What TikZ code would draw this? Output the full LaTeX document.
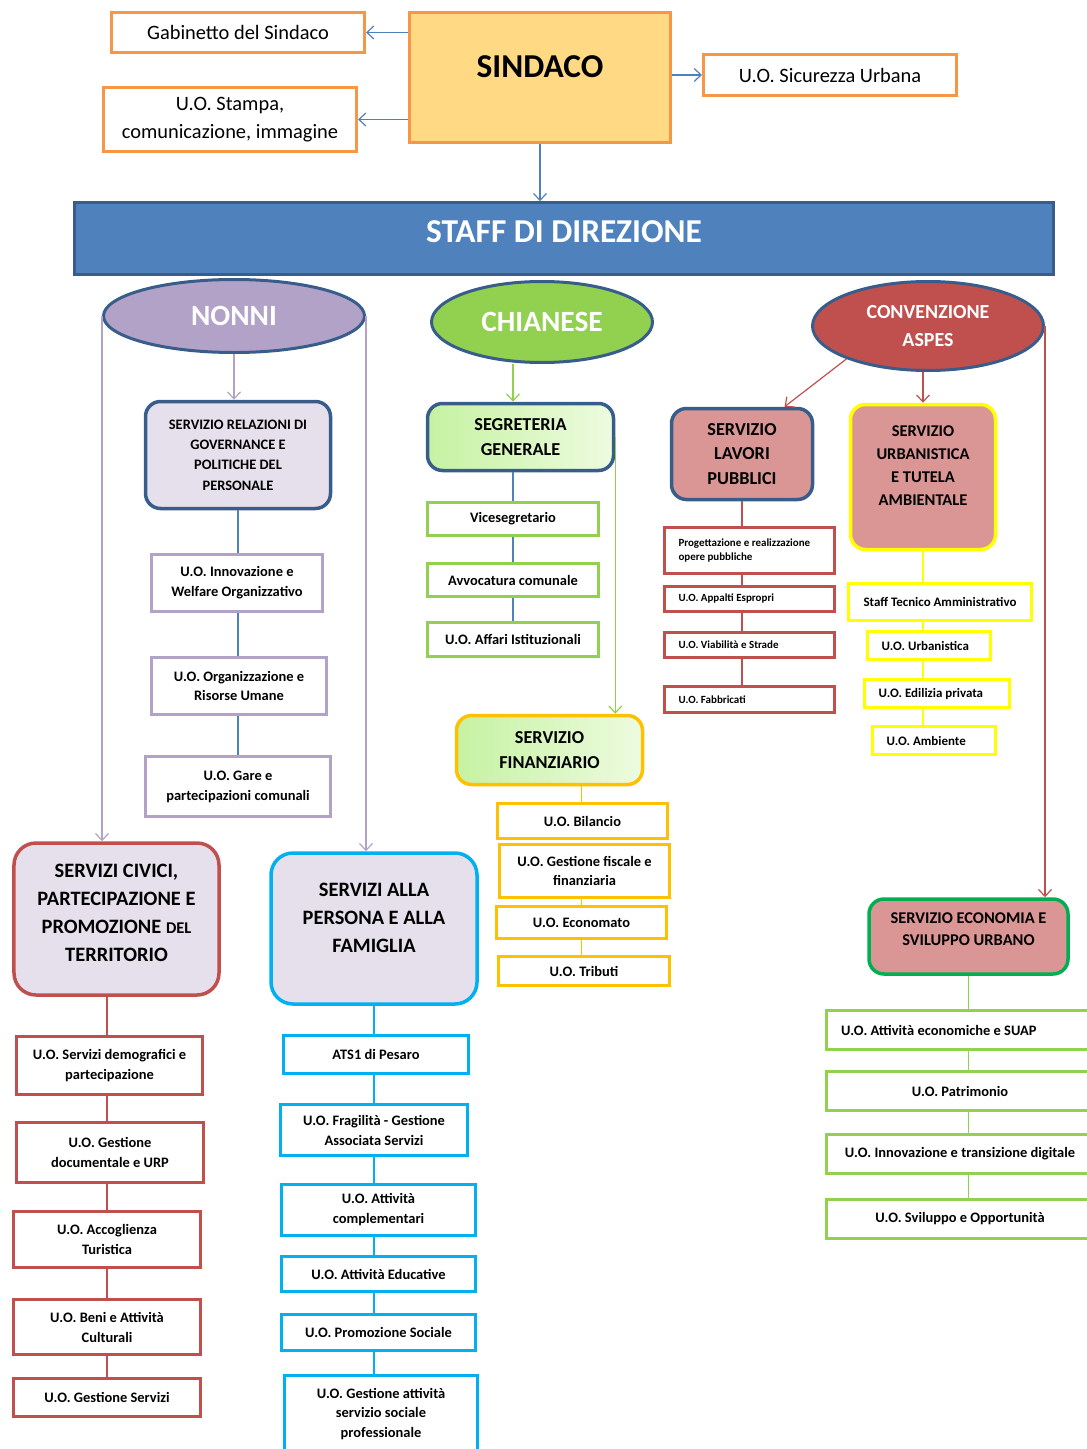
\documentclass[tikz,border=0pt]{standalone}
\usepackage{fontspec}
\setmainfont{Carlito}
\usetikzlibrary{shapes.geometric,arrows.meta}

\definecolor{orln}{HTML}{F79646}
\definecolor{sinbg}{HTML}{FFD983}
\definecolor{bluln}{HTML}{4F81BD}
\definecolor{dkblu}{HTML}{385D8A}
\definecolor{lavln}{HTML}{B3A2C7}
\definecolor{lavbg}{HTML}{E5E0EC}
\definecolor{grnln}{HTML}{92D050}
\definecolor{redln}{HTML}{C0504D}
\definecolor{pinkbg}{HTML}{D99694}
\definecolor{yelln}{HTML}{FFFF00}
\definecolor{ambln}{HTML}{FFC000}
\definecolor{cyanln}{HTML}{00B0F0}
\definecolor{dkgrn}{HTML}{00B050}
\definecolor{lgA}{HTML}{C6F2A2}
\definecolor{lgB}{HTML}{EDFBE0}

\begin{document}
\begin{tikzpicture}[x=1bp, y=-1bp,
    >={Straight Barb[length=7bp,width=13bp]},
    sz/.style 2 args = {minimum width = #1bp, minimum height = #2bp},
    topbox/.style = {draw = orln, line width = 3bp, fill = white, align = center, inner sep = 2bp, font = \fontsize{20.5}{28}\selectfont},
    capo/.style = {shape = ellipse, draw = dkblu, line width = 3bp, inner sep = 0bp, text = white, align = center, font = \bfseries\fontsize{29.5}{34}\selectfont},
    srv/.style = {draw = #1, rounded corners = 15bp, line width = 3.5bp, align = center, inner sep = 3bp, font = \bfseries\fontsize{18.3}{25}\selectfont},
    grad/.style = {left color = lgA, right color = lgB},
    uo/.style = {draw = #1, line width = 3bp, fill = white, align = center, inner sep = 2bp, font = \bfseries\fontsize{14.5}{20}\selectfont},
    uol/.style = {uo = #1, align = flush left, inner xsep = 14bp},
    lnk/.style = {line width = 1.2bp},
    ]
    \useasboundingbox (0,0) rectangle (1086,1449);

    \node[topbox, sz = {253}{40}] (GAB) at (238,32.5) {Gabinetto del Sindaco};
    \node[topbox, sz = {253}{64}] (STA) at (230,119.5) {U.O. Stampa,\\comunicazione, immagine};
    \node[topbox, fill = sinbg, sz = {261}{130}, text depth = 22bp, font = \bfseries\fontsize{33.5}{38}\selectfont] (SIN) at (540,77.5) {SINDACO};
    \node[topbox, sz = {253}{41}] (SIC) at (830,75) {U.O. Sicurezza Urbana};
    \node[draw = dkblu, fill = bluln, line width = 2.5bp, sz = {979}{72}, text = white, text depth = 14bp, font = \bfseries\fontsize{33.5}{38}\selectfont] (STAFF) at (564,238.5) {STAFF DI DIREZIONE};

    \node[capo, fill = lavln, sz = {261}{73}] (NON) at (234,316) {NONNI};
    \node[capo, fill = grnln, sz = {221}{81}] (CHI) at (542,322) {CHIANESE};
    \node[capo, fill = redln, sz = {231}{89}, font = \bfseries\fontsize{20}{28}\selectfont] (ASP) at (928,326) {CONVENZIONE\\ASPES};

    \node[srv = dkblu, fill = lavbg, sz = {185}{107}, font = \bfseries\fontsize{14.5}{20.3}\selectfont] (SR) at (238,455) {SERVIZIO RELAZIONI DI\\GOVERNANCE E\\POLITICHE DEL\\PERSONALE};
    \node[uo = lavln, sz = {171}{57}] (INN) at (237,583) {U.O. Innovazione e\\Welfare Organizzativo};
    \node[uo = lavln, sz = {175}{57}] (ORG) at (239,686) {U.O. Organizzazione e\\Risorse Umane};
    \node[uo = lavln, sz = {185}{60}] (GARE) at (238,786.5) {U.O. Gare e\\partecipazioni comunali};

    \node[srv = dkblu, grad, sz = {186}{67}] (SEG) at (520.5,437) {SEGRETERIA\\GENERALE};
    \node[uo = grnln, sz = {171}{33}] (VICE) at (513,519) {Vicesegretario};
    \node[uo = grnln, sz = {171}{33}] (AVV) at (513,580) {Avvocatura comunale};
    \node[uo = grnln, sz = {171}{34}] (AFF) at (513,639.5) {U.O. Affari Istituzionali};

    \node[srv = ambln, grad, sz = {186}{69}] (FIN) at (549.5,750) {SERVIZIO\\FINANZIARIO};
    \node[uo = ambln, sz = {170}{35}] (BIL) at (582.5,821) {U.O. Bilancio};
    \node[uo = ambln, sz = {170}{53}] (FISC) at (584.5,871) {U.O. Gestione fiscale e\\finanziaria};
    \node[uo = ambln, sz = {170}{32}] (ECO) at (581.5,922.5) {U.O. Economato};
    \node[uo = ambln, sz = {171}{29}] (TRI) at (584,971) {U.O. Tributi};

    \node[srv = dkblu, fill = pinkbg, sz = {141}{91}] (LAV) at (742,454) {SERVIZIO\\LAVORI\\PUBBLICI};
    \node[uol = redln, sz = {170}{46}, font = \bfseries\fontsize{11}{15}\selectfont, text width = 142bp] (PROG) at (749.5,550.5) {Progettazione e realizzazione\\opere pubbliche};
    \node[uol = redln, sz = {170}{25}, font = \bfseries\fontsize{11}{15}\selectfont, text width = 142bp] (APP) at (749.5,599) {U.O. Appalti Espropri};
    \node[uol = redln, sz = {170}{25}, font = \bfseries\fontsize{11}{15}\selectfont, text width = 142bp] (VIA) at (749.5,645) {U.O. Viabilità e Strade};
    \node[uol = redln, sz = {170}{26}, font = \bfseries\fontsize{11}{15}\selectfont, text width = 142bp] (FAB) at (749.5,699.5) {U.O. Fabbricati};

    \node[srv = yelln, fill = pinkbg, sz = {145}{145}, font = \bfseries\fontsize{16.5}{23}\selectfont] (URB) at (923,477) {SERVIZIO\\URBANISTICA\\E TUTELA\\AMBIENTALE\\~};
    \node[uo = yelln, sz = {183}{37}, font = \bfseries\fontsize{13}{18}\selectfont] (STC) at (940,602) {Staff Tecnico Amministrativo};
    \node[uol = yelln, sz = {123}{28}, font = \bfseries\fontsize{13}{18}\selectfont, text width = 95bp] (URBU) at (929,645.5) {U.O. Urbanistica};
    \node[uol = yelln, sz = {145}{28}, font = \bfseries\fontsize{13}{18}\selectfont, text width = 117bp] (EDI) at (937,693.5) {U.O. Edilizia privata};
    \node[uol = yelln, sz = {123}{28}, font = \bfseries\fontsize{13}{18}\selectfont, text width = 95bp] (AMB) at (934,740.5) {U.O. Ambiente};

    \node[srv = redln, fill = lavbg, sz = {205}{152}, rounded corners = 22bp, text depth = 12bp, font = \bfseries\fontsize{20.5}{28}\selectfont] (CIV) at (116.5,919) {SERVIZI CIVICI,\\PARTECIPAZIONE E\\PROMOZIONE {\fontsize{16.5}{28}\selectfont DEL}\\TERRITORIO};
    \node[uo = redln, sz = {186}{58}] (SD) at (109.5,1065.5) {U.O. Servizi demografici e\\partecipazione};
    \node[uo = redln, sz = {187}{60}] (GD) at (110,1152.5) {U.O. Gestione\\documentale e URP};
    \node[uo = redln, sz = {187}{56}] (ACC) at (107,1239.5) {U.O. Accoglienza\\Turistica};
    \node[uo = redln, sz = {187}{55}] (BEN) at (107,1327) {U.O. Beni e Attività\\Culturali};
    \node[uo = redln, sz = {187}{38}] (GS) at (107,1397.5) {U.O. Gestione Servizi};

    \node[srv = cyanln, fill = lavbg, sz = {206}{151}, rounded corners = 22bp, font = \bfseries\fontsize{20.5}{28}\selectfont] (PER) at (374,928.5) {SERVIZI ALLA\\PERSONA E ALLA\\FAMIGLIA\\[-6bp]~};
    \node[uo = cyanln, sz = {185}{38}] (ATS) at (376,1054.5) {ATS1 di Pesaro};
    \node[uo = cyanln, sz = {187}{51}] (FRA) at (374,1130) {U.O. Fragilità - Gestione\\Associata Servizi};
    \node[uo = cyanln, sz = {194}{51}] (COM) at (378.5,1210) {U.O. Attività\\complementari};
    \node[uo = cyanln, sz = {194}{35}] (EDU) at (378.5,1274) {U.O. Attività Educative};
    \node[uo = cyanln, sz = {194}{36}] (PRO) at (378.5,1332.5) {U.O. Promozione Sociale};
    \node[uo = cyanln, sz = {193}{77}] (GSS) at (381,1414) {U.O. Gestione attività\\servizio sociale\\professionale};

    \node[srv = dkgrn, fill = pinkbg, sz = {199}{75}, text depth = 14bp, font = \bfseries\fontsize{16.5}{22}\selectfont] (ECN) at (968.5,936.5) {SERVIZIO ECONOMIA E\\SVILUPPO URBANO};
    \node[uol = grnln, sz = {267}{39}, text width = 238bp] (AE) at (960,1030) {U.O. Attività economiche e SUAP};
    \node[uo = grnln, sz = {267}{39}] (PAT) at (960,1091) {U.O. Patrimonio};
    \node[uo = grnln, sz = {267}{39}] (INND) at (960,1154) {U.O. Innovazione e transizione digitale};
    \node[uo = grnln, sz = {267}{39}] (SVI) at (960,1219) {U.O. Sviluppo e Opportunità};

    \path[->, lnk, bluln] (SIN.west |- GAB.east) edge (GAB.east);
    \path[->, lnk, bluln] (SIN.west |- STA.east) edge (STA.east);
    \path[->, lnk, bluln] (SIN.east |- SIC.west) edge (SIC.west);
    \path[->, lnk, bluln] (SIN.south) edge (SIN.south |- STAFF.north);

    \path[->, lnk, lavln] (NON.south) edge (NON.south |- SR.north);
    \path[->, lnk, lavln] (NON.west) edge (NON.west |- CIV.north);
    \path[->, lnk, lavln] (NON.east) edge (NON.east |- PER.north);
    \path[lnk, bluln] (SR.south) edge (SR.south |- INN.north);
    \path[lnk, bluln] (SR.south |- INN.south) edge (SR.south |- ORG.north);
    \path[lnk, bluln] (SR.south |- ORG.south) edge (SR.south |- GARE.north);

    \path[->, lnk, grnln] (VICE.north |- CHI.south) edge (VICE.north |- SEG.north);
    \path[->, lnk, grnln] (SEG.east) edge (SEG.east |- FIN.north);
    \path[lnk, bluln] (VICE.north |- SEG.south) edge (VICE.north);
    \path[lnk, bluln] (VICE.south) edge (AVV.north);
    \path[lnk, bluln] (AVV.south) edge (AFF.north);

    \path[lnk, ambln] (ECO.north |- FIN.south) edge (ECO.north |- BIL.north);
    \path[lnk, ambln] (ECO.north |- FISC.south) edge (ECO.north);
    \path[lnk, ambln] (ECO.south) edge (ECO.south |- TRI.north);

    \path[->, lnk, redln] (ASP.202) edge (LAV.48);
    \path[->, lnk, redln] (URB.north |- ASP.south) edge (URB.north);
    \path[->, lnk, redln] (ASP.east) edge (ASP.east |- ECN.north);
    \path[lnk, redln] (LAV.south) edge (LAV.south |- PROG.north);
    \path[lnk, redln] (LAV.south |- PROG.south) edge (LAV.south |- APP.north);
    \path[lnk, redln] (LAV.south |- APP.south) edge (LAV.south |- VIA.north);
    \path[lnk, redln] (LAV.south |- VIA.south) edge (LAV.south |- FAB.north);

    \path[lnk, yelln] (URB.south) edge (URB.south |- STC.north);
    \path[lnk, yelln] (URB.south |- STC.south) edge (URB.south |- URBU.north);
    \path[lnk, yelln] (URB.south |- URBU.south) edge (URB.south |- EDI.north);
    \path[lnk, yelln] (URB.south |- EDI.south) edge (URB.south |- AMB.north);

    \path[lnk, redln] (GS.north |- CIV.south) edge (GS.north |- SD.north);
    \path[lnk, redln] (GS.north |- SD.south) edge (GS.north |- GD.north);
    \path[lnk, redln] (GS.north |- GD.south) edge (GS.north |- ACC.north);
    \path[lnk, redln] (GS.north |- ACC.south) edge (GS.north |- BEN.north);
    \path[lnk, redln] (GS.north |- BEN.south) edge (GS.north);

    \path[lnk, cyanln] (PER.south) edge (PER.south |- ATS.north);
    \path[lnk, cyanln] (PER.south |- ATS.south) edge (PER.south |- FRA.north);
    \path[lnk, cyanln] (PER.south |- FRA.south) edge (PER.south |- COM.north);
    \path[lnk, cyanln] (PER.south |- COM.south) edge (PER.south |- EDU.north);
    \path[lnk, cyanln] (PER.south |- EDU.south) edge (PER.south |- PRO.north);
    \path[lnk, cyanln] (PER.south |- PRO.south) edge (PER.south |- GSS.north);

    \path[lnk, grnln] (ECN.south) edge (ECN.south |- AE.north);
    \path[lnk, grnln] (ECN.south |- AE.south) edge (ECN.south |- PAT.north);
    \path[lnk, grnln] (ECN.south |- PAT.south) edge (ECN.south |- INND.north);
    \path[lnk, grnln] (ECN.south |- INND.south) edge (ECN.south |- SVI.north);
\end{tikzpicture}
\end{document}
